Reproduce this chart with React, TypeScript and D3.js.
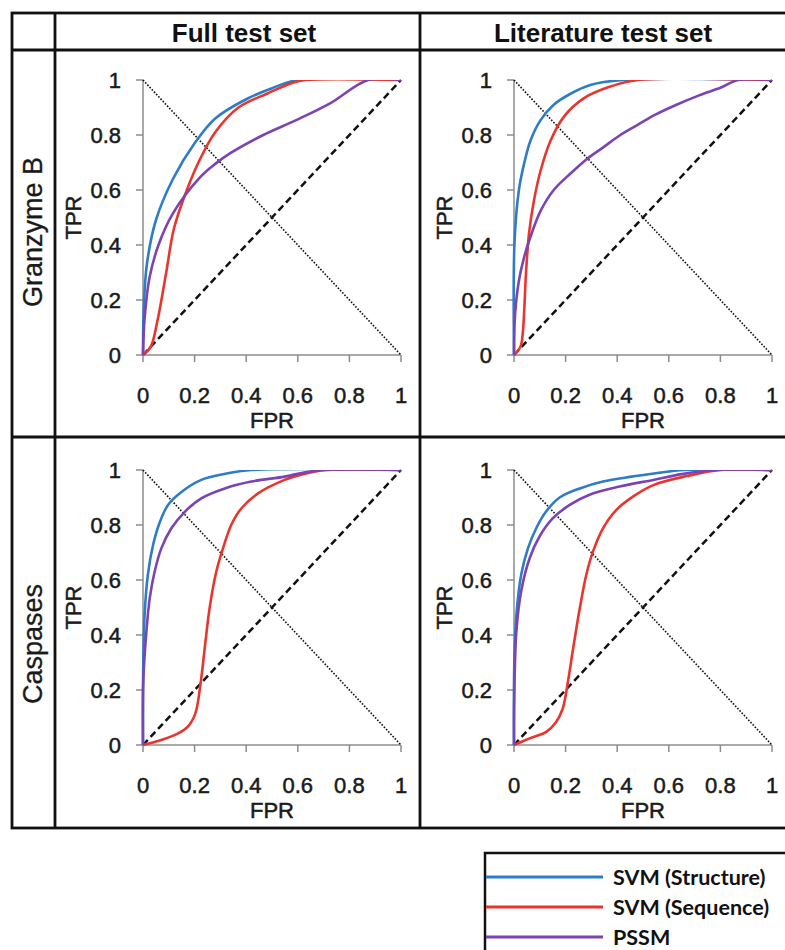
import React from "react";
import * as d3 from "d3";

// [fpr, tpr] points
const gzmFullStructure = [[0, 0], [0.003, 0.17], [0.015, 0.33], [0.05, 0.49], [0.116, 0.64], [0.2, 0.77], [0.28, 0.86], [0.4, 0.93], [0.5, 0.97], [0.6, 1], [1, 1]];
const gzmFullSequence = [[0, 0], [0.03, 0.03], [0.055, 0.12], [0.09, 0.3], [0.12, 0.46], [0.17, 0.6], [0.22, 0.71], [0.28, 0.81], [0.37, 0.9], [0.48, 0.95], [0.58, 0.99], [0.63, 1], [1, 1]];
const gzmFullPssm = [[0, 0], [0.006, 0.13], [0.025, 0.28], [0.06, 0.4], [0.116, 0.515], [0.22, 0.645], [0.28, 0.695], [0.34, 0.735], [0.466, 0.8], [0.596, 0.855], [0.725, 0.915], [0.873, 1], [1, 1]];

const gzmLitStructure = [[0, 0], [0.002, 0.41], [0.019, 0.6], [0.039, 0.695], [0.064, 0.78], [0.103, 0.854], [0.154, 0.91], [0.219, 0.95], [0.296, 0.982], [0.42, 1], [1, 1]];
const gzmLitSequence = [[0, 0], [0.025, 0.03], [0.034, 0.08], [0.04, 0.17], [0.046, 0.29], [0.058, 0.44], [0.077, 0.56], [0.103, 0.67], [0.142, 0.78], [0.193, 0.866], [0.27, 0.933], [0.373, 0.976], [0.48, 1], [1, 1]];
const gzmLitPssm = [[0, 0], [0.004, 0.146], [0.019, 0.27], [0.039, 0.355], [0.064, 0.43], [0.103, 0.524], [0.154, 0.6], [0.219, 0.66], [0.283, 0.713], [0.347, 0.756], [0.412, 0.8], [0.476, 0.835], [0.55, 0.875], [0.63, 0.91], [0.72, 0.945], [0.8, 0.972], [0.87, 1], [1, 1]];

const caspFullStructure = [[0, 0], [0.001, 0.29], [0.006, 0.47], [0.019, 0.62], [0.039, 0.727], [0.065, 0.81], [0.097, 0.873], [0.149, 0.92], [0.226, 0.964], [0.33, 0.988], [0.42, 1], [1, 1]];
const caspFullSequence = [[0, 0], [0.071, 0.018], [0.136, 0.042], [0.175, 0.068], [0.203, 0.115], [0.224, 0.23], [0.239, 0.35], [0.258, 0.497], [0.284, 0.63], [0.31, 0.715], [0.342, 0.8], [0.381, 0.86], [0.446, 0.915], [0.549, 0.964], [0.62, 0.985], [0.71, 1], [1, 1]];
const caspFullPssm = [[0, 0], [0.001, 0.23], [0.013, 0.41], [0.026, 0.533], [0.045, 0.63], [0.071, 0.715], [0.11, 0.788], [0.162, 0.848], [0.226, 0.897], [0.317, 0.933], [0.42, 0.958], [0.549, 0.976], [0.62, 0.99], [0.7, 1], [1, 1]];

const caspLitStructure = [[0, 0], [0.001, 0.29], [0.009, 0.47], [0.028, 0.62], [0.054, 0.715], [0.087, 0.79], [0.125, 0.85], [0.177, 0.9], [0.255, 0.933], [0.345, 0.958], [0.45, 0.975], [0.55, 0.988], [0.66, 1], [1, 1]];
const caspLitSequence = [[0, 0], [0.061, 0.024], [0.125, 0.048], [0.162, 0.082], [0.188, 0.13], [0.209, 0.23], [0.229, 0.35], [0.255, 0.497], [0.28, 0.618], [0.306, 0.703], [0.345, 0.788], [0.397, 0.855], [0.461, 0.903], [0.54, 0.945], [0.67, 0.978], [0.8, 1], [1, 1]];
const caspLitPssm = [[0, 0], [0.001, 0.17], [0.009, 0.41], [0.028, 0.56], [0.061, 0.68], [0.1, 0.76], [0.15, 0.824], [0.216, 0.873], [0.293, 0.91], [0.41, 0.94], [0.54, 0.964], [0.65, 0.985], [0.78, 1], [1, 1]];

const columnTitles = ["Full test set", "Literature test set"];
const rowTitles = ["Granzyme B", "Caspases"];
const seriesNames = ["SVM (Structure)", "SVM (Sequence)", "PSSM"];
const seriesColors = ["#2e7cc7", "#e8352e", "#7b44b2"];
const tickValues = [0, 0.2, 0.4, 0.6, 0.8, 1];

const panels = [
  { row: 0, col: 0, curves: [gzmFullStructure, gzmFullSequence, gzmFullPssm] },
  { row: 0, col: 1, curves: [gzmLitStructure, gzmLitSequence, gzmLitPssm] },
  { row: 1, col: 0, curves: [caspFullStructure, caspFullSequence, caspFullPssm] },
  { row: 1, col: 1, curves: [caspLitStructure, caspLitSequence, caspLitPssm] }
];

const colX = [143, 514];
const rowY = [80, 470];
const plotW = 258;
const plotH = 275;
const font = "'Liberation Sans', Arial, sans-serif";
const ink = "#1a1a1a";

function Label(props) {
  // slight stroke so the text reads as heavy as the blurry original
  return <text fontFamily={font} fill={ink} stroke={ink} strokeWidth={0.5} {...props} />;
}

function Panel({ id, x0, y0, curves }) {
  const x = d3.scaleLinear().domain([0, 1]).range([x0, x0 + plotW]);
  const y = d3.scaleLinear().domain([0, 1]).range([y0 + plotH, y0]);
  const line = d3
    .line()
    .x(d => x(d[0]))
    .y(d => y(d[1]))
    .curve(d3.curveCatmullRom.alpha(0.5));

  return (
    <g>
      <defs>
        <clipPath id={"clip" + id}>
          <rect x={x(0) - 5} y={y(1)} width={plotW + 10} height={plotH + 5} />
        </clipPath>
      </defs>
      {/* axes */}
      <line x1={x(0)} x2={x(0)} y1={y(0)} y2={y(1)} stroke="#8c8c8c" strokeWidth={1.5} />
      <line x1={x(0)} x2={x(1)} y1={y(0)} y2={y(0)} stroke="#8c8c8c" strokeWidth={1.5} />
      {tickValues.map(t => (
        <g key={"y" + t}>
          <line x1={x(0) - 7} x2={x(0)} y1={y(t)} y2={y(t)} stroke="#8c8c8c" strokeWidth={1.5} />
          <Label x={x(0) - 22} y={y(t) + 8} textAnchor="end" fontSize={22}>
            {String(t)}
          </Label>
        </g>
      ))}
      {tickValues.map(t => (
        <g key={"x" + t}>
          <line x1={x(t)} x2={x(t)} y1={y(0)} y2={y(0) + 7} stroke="#8c8c8c" strokeWidth={1.5} />
          <Label x={x(t)} y={y(0) + 48} textAnchor="middle" fontSize={22}>
            {String(t)}
          </Label>
        </g>
      ))}
      <Label x={(x(0) + x(1)) / 2} y={y(0) + 73} textAnchor="middle" fontSize={22}>
        FPR
      </Label>
      <Label transform={`translate(${x(0) - 62},${(y(0) + y(1)) / 2}) rotate(-90)`} textAnchor="middle" fontSize={22}>
        TPR
      </Label>

      {/* reference diagonals */}
      <line x1={x(0)} y1={y(0)} x2={x(1)} y2={y(1)} stroke="#111" strokeWidth={2.5} strokeDasharray="7,4" />
      <line x1={x(0)} y1={y(1)} x2={x(1)} y2={y(0)} stroke="#111" strokeWidth={1.6} strokeDasharray="1.6,1.6" />

      <g clipPath={`url(#clip${id})`}>
        {curves.map((c, i) => (
          <path key={i} d={line(c)} fill="none" stroke={seriesColors[i]} strokeWidth={2.6} />
        ))}
      </g>
    </g>
  );
}

export default function App() {
  const frameL = 12;
  const frameT = 13;
  const frameR = 795;
  const headerB = 50;
  const midY = 437;
  const bottomY = 828;
  const labelColR = 55;
  const midX = 420;

  return (
    <svg width={785} height={950} style={{ position: "absolute", left: 0, top: 0, background: "#fff" }}>
      {/* table grid */}
      <g stroke="#111" strokeWidth={2.8} fill="none">
        <rect x={frameL} y={frameT} width={frameR - frameL} height={bottomY - frameT} />
        <line x1={frameL} x2={frameR} y1={headerB} y2={headerB} />
        <line x1={frameL} x2={frameR} y1={midY} y2={midY} />
        <line x1={labelColR} x2={labelColR} y1={frameT} y2={bottomY} />
        <line x1={midX} x2={midX} y1={frameT} y2={bottomY} />
      </g>

      {columnTitles.map((t, i) => (
        <text key={t} x={i === 0 ? 244 : 603} y={42} textAnchor="middle" fontSize={26} fontWeight="bold" fontFamily={font} fill="#111">
          {t}
        </text>
      ))}
      {rowTitles.map((t, i) => (
        <Label key={t} transform={`translate(${42},${i === 0 ? 232 : 644}) rotate(-90)`} textAnchor="middle" fontSize={27} strokeWidth={0.3}>
          {t}
        </Label>
      ))}

      {panels.map((p, i) => (
        <Panel key={i} id={i} x0={colX[p.col]} y0={rowY[p.row]} curves={p.curves} />
      ))}

      {/* legend */}
      <rect x={485} y={853} width={320} height={110} fill="none" stroke="#111" strokeWidth={2.5} />
      {seriesNames.map((n, i) => (
        <g key={n}>
          <line x1={486} x2={603} y1={877 + i * 30} y2={877 + i * 30} stroke={seriesColors[i]} strokeWidth={3} />
          <text x={613} y={885 + i * 30} fontSize={21.5} fontWeight="bold" fontFamily="Lato, sans-serif" fill="#111">
            {n}
          </text>
        </g>
      ))}
    </svg>
  );
}
